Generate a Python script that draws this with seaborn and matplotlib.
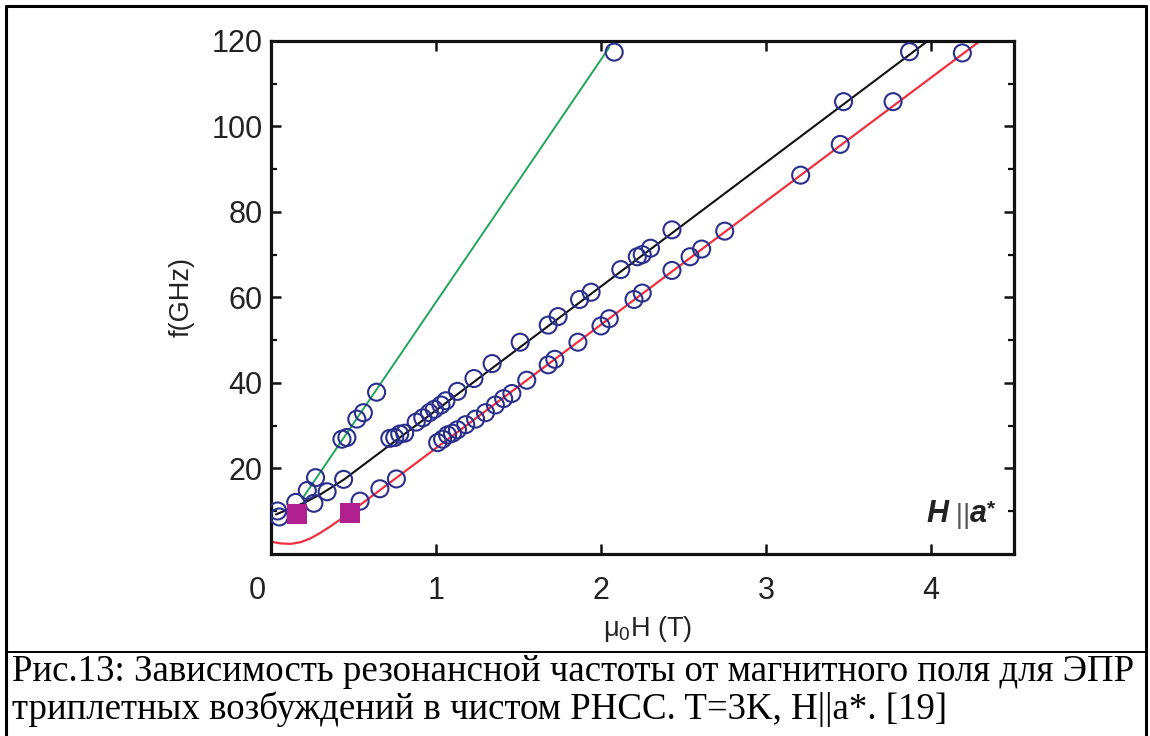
import matplotlib
matplotlib.use("Agg")
import matplotlib.pyplot as plt
import matplotlib.transforms as mtransforms
from matplotlib.lines import Line2D
from matplotlib.ticker import FixedLocator
import pandas as pd
import seaborn as sns

# ---- measured resonance points: field mu0H (T), frequency f (GHz) ----
mid_H = [0.04, 0.05, 0.15, 0.26, 0.34, 0.44, 0.72, 0.75, 0.78, 0.81, 0.88, 0.92,
         0.96, 0.99, 1.03, 1.06, 1.13, 1.23, 1.34, 1.51, 1.68, 1.74, 1.87, 1.94,
         2.12, 2.22, 2.25, 2.30, 2.43, 3.47, 3.87]
mid_f = [10.0, 8.6, 12.0, 11.8, 14.5, 17.4, 27.0, 27.2, 28.0, 28.2, 30.8, 31.8,
         33.0, 33.8, 34.8, 35.8, 38.0, 41.0, 44.5, 49.5, 53.5, 55.5, 59.5, 61.2,
         66.5, 69.5, 70.0, 71.5, 75.8, 105.8, 117.5]

steep_H = [0.22, 0.27, 0.43, 0.46, 0.52, 0.56, 0.64, 2.08]
steep_f = [14.8, 17.8, 26.8, 27.2, 31.5, 33.0, 37.8, 117.4]

low_H = [0.54, 0.66, 0.76, 1.01, 1.04, 1.07, 1.10, 1.13, 1.18, 1.24, 1.30, 1.36,
         1.41, 1.46, 1.55, 1.68, 1.72, 1.86, 2.00, 2.05, 2.20, 2.25, 2.43, 2.54,
         2.61, 2.75, 3.21, 3.45, 3.77, 4.19]
low_f = [12.3, 15.2, 17.5, 26.0, 26.8, 27.8, 28.2, 29.0, 30.2, 31.5, 33.0, 34.8,
         36.3, 37.5, 40.6, 44.2, 45.5, 49.5, 53.3, 55.0, 59.5, 61.0, 66.3, 69.5,
         71.3, 75.5, 88.6, 95.8, 105.8, 117.2]

# low-frequency points (filled squares)
sq_H = [0.16, 0.48]
sq_f = [9.4, 9.6]

# ---- theory curves (vertices) ----
green_H = [0.19, 2.05]
green_f = [12.9, 118.5]
black_H = [0.03, 0.10, 0.20, 0.30, 0.44, 3.98]
black_f = [9.2, 10.3, 11.9, 13.9, 17.3, 120.0]
red_H = [0.00, 0.06, 0.12, 0.18, 0.24, 0.30, 0.36, 0.42, 0.48, 0.55, 4.29]
red_f = [2.8, 2.4, 2.3, 2.7, 3.6, 4.9, 6.4, 8.0, 9.7, 11.7, 119.8]

x_ticks = [0, 1, 2, 3, 4]
y_ticks = [20, 40, 60, 80, 100, 120]

caption = ["Рис.13: Зависимость резонансной частоты от магнитного поля для ЭПР",
           "триплетных возбуждений в чистом PHCC. T=3K, H||a*. [19]"]

sns.set_theme(style="ticks")
plt.rcParams["font.family"] = ["Liberation Sans", "DejaVu Sans"]
plt.rcParams["mathtext.fontset"] = "custom"
plt.rcParams["mathtext.rm"] = "Liberation Sans"
plt.rcParams["mathtext.it"] = "Liberation Sans:italic"
plt.rcParams["mathtext.default"] = "rm"

W, H = 1150, 736
fig = plt.figure(figsize=(W / 100, H / 100), dpi=100)
fig.patch.set_facecolor("white")
ax = fig.add_axes([271 / W, 1 - 553.7 / H, (1013.5 - 271) / W, (553.7 - 41) / H])
ax.set_facecolor("white")

navy = "#2b2f8c"
sns.lineplot(x=green_H, y=green_f, ax=ax, color="#22a55a", lw=1.4, sort=False, estimator=None)
sns.lineplot(x=black_H, y=black_f, ax=ax, color="#111111", lw=1.5, sort=False, estimator=None)
sns.lineplot(x=red_H, y=red_f, ax=ax, color="#f0303f", lw=1.6, sort=False, estimator=None)

pts = pd.DataFrame({
    "H": mid_H + steep_H + low_H,
    "f": mid_f + steep_f + low_f,
})
sns.scatterplot(data=pts, x="H", y="f", ax=ax, marker="o", s=150,
                facecolor="none", edgecolor=navy, linewidth=1.5, zorder=4)
sns.scatterplot(x=sq_H, y=sq_f, ax=ax, marker="s", s=200, color="#b0208e",
                edgecolor="#b0208e", linewidth=0, zorder=5)

ax.set_xlim(0, 4.5)
ax.set_ylim(0, 120)
ax.xaxis.set_major_locator(FixedLocator(x_ticks))
ax.yaxis.set_major_locator(FixedLocator(y_ticks))
ax.yaxis.set_minor_locator(FixedLocator([10, 30, 50, 70, 90, 110]))
ax.set_xticklabels([str(v) for v in x_ticks])
ax.set_yticklabels([str(v) for v in y_ticks])

for s in ax.spines.values():
    s.set_linewidth(2.3)
    s.set_color("#111111")
ax.tick_params(which="both", direction="in", top=True, right=True, color="#111111")
ax.tick_params(which="major", length=7, width=1.8)
ax.tick_params(which="minor", length=4, width=1.6)
ax.tick_params(axis="x", which="major", pad=16, labelsize=22, labelcolor="#222222")
ax.tick_params(axis="y", which="major", pad=6, labelsize=22, labelcolor="#222222")
ax.tick_params(axis="x", which="minor", bottom=False, top=False)

# nudge the "0" label away from the left spine
fig.canvas.draw()
lab0 = ax.get_xticklabels()[0]
lab0.set_transform(lab0.get_transform() +
                   mtransforms.ScaledTranslation(-14 / 100, 0, fig.dpi_scale_trans))

ax.set_xlabel(r"$\mu_0$H (T)", fontsize=19.5, color="#222222")
ax.xaxis.set_label_coords((648 - 271) / 742.5, (553.7 - 614) / 512.7)
ax.set_ylabel("f(GHz)", fontsize=19.5, color="#222222")
ax.yaxis.set_label_coords((195 - 271) / 742.5, 0.5)

# field-direction tag
t1 = ax.text(3.97, 7.4, "H", fontsize=22, fontweight="bold", style="italic",
             color="#222222", ha="left", va="baseline")
t2 = ax.annotate(" ||", xy=(1, 0), xycoords=t1, fontsize=20, color="#555555",
                 ha="left", va="bottom")
t3 = ax.annotate("a", xy=(1, 0), xycoords=t2, fontsize=22, fontweight="bold",
                 style="italic", color="#222222", ha="left", va="bottom")
ax.annotate("*", xy=(1, 1), xycoords=t3, fontsize=15, fontweight="bold",
            color="#222222", ha="left", va="top")

# page frame and caption separator
lw_frame = 2.2
fig.add_artist(Line2D([6 / W, 6 / W], [0, 1 - 6 / H], transform=fig.transFigure,
                      color="black", lw=lw_frame))
fig.add_artist(Line2D([1146 / W, 1146 / W], [0, 1 - 6 / H], transform=fig.transFigure,
                      color="black", lw=lw_frame))
fig.add_artist(Line2D([6 / W, 1146 / W], [1 - 6 / H, 1 - 6 / H], transform=fig.transFigure,
                      color="black", lw=lw_frame))
fig.add_artist(Line2D([6 / W, 1146 / W], [1 - 652 / H, 1 - 652 / H], transform=fig.transFigure,
                      color="black", lw=1.4))

cap_kw = dict(family=["Liberation Serif", "DejaVu Serif"], color="black", va="baseline", ha="left")
c1 = fig.text(12 / W, 1 - 681 / H, caption[0], fontsize=23, **cap_kw)
c2 = fig.text(12 / W, 1 - 719 / H, caption[1], fontsize=23, **cap_kw)
fig.canvas.draw()
r = fig.canvas.get_renderer()
w1 = c1.get_window_extent(r).width
scale = (1140 - 12) / w1
c1.set_fontsize(23 * scale)
c2.set_fontsize(23 * scale)

fig.savefig("out.png", dpi=100, facecolor="white")
